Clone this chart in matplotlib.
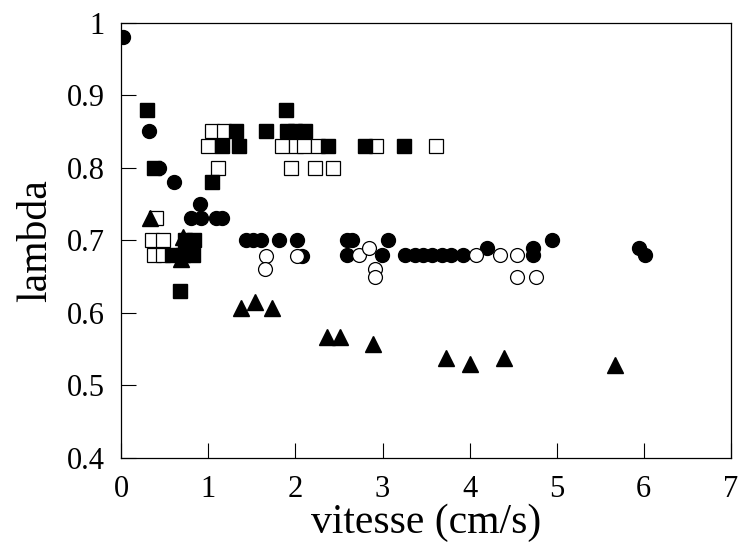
import matplotlib
matplotlib.use('Agg')
import matplotlib.pyplot as plt

plt.rcParams['font.family'] = ['Liberation Serif', 'DejaVu Serif']

# filled circles
fc_x = [0.02, 0.32, 0.43, 0.61, 0.90, 0.80, 0.92, 1.09, 1.16,
        1.43, 1.51, 1.60, 1.81, 2.02, 2.075, 2.59, 2.65, 3.06,
        2.59, 2.99, 3.26, 3.37, 3.47, 3.57, 3.68, 3.79, 3.93,
        4.20, 4.725, 4.725, 4.95, 5.945, 6.02]
fc_y = [0.98, 0.85, 0.80, 0.78, 0.75, 0.73, 0.73, 0.73, 0.73,
        0.70, 0.70, 0.70, 0.70, 0.70, 0.678, 0.70, 0.70, 0.70,
        0.68, 0.68, 0.68, 0.68, 0.68, 0.68, 0.68, 0.68, 0.68,
        0.69, 0.69, 0.68, 0.70, 0.69, 0.68]

# open circles
oc_x = [1.66, 1.645, 2.02, 2.73, 2.84, 2.91, 2.91, 4.07, 4.35, 4.55, 4.55, 4.76]
oc_y = [0.678, 0.66, 0.678, 0.68, 0.69, 0.66, 0.65, 0.68, 0.68, 0.68, 0.65, 0.65]

# filled squares
fs_x = [0.29, 1.89, 1.32, 1.665, 1.90, 2.0, 2.11, 1.16, 1.35, 2.37, 2.80, 3.25,
        0.37, 1.04, 0.73, 0.84, 0.58, 0.71, 0.82, 0.67]
fs_y = [0.88, 0.88, 0.85, 0.85, 0.85, 0.85, 0.85, 0.83, 0.83, 0.83, 0.83, 0.83,
        0.80, 0.78, 0.70, 0.70, 0.68, 0.68, 0.68, 0.63]

# open squares
os_x = [1.04, 1.18, 1.00, 1.84, 2.01, 2.10, 2.26, 2.92, 3.62,
        1.11, 1.95, 2.23, 2.43, 0.40, 0.35, 0.48, 0.37, 0.48]
os_y = [0.85, 0.85, 0.83, 0.83, 0.83, 0.83, 0.83, 0.83, 0.83,
        0.80, 0.80, 0.80, 0.80, 0.73, 0.70, 0.70, 0.68, 0.68]

# triangles
tr_x = [0.33, 0.71, 0.69, 1.38, 1.54, 1.73, 2.36, 2.51, 2.89, 3.73, 4.00, 4.40, 5.67]
tr_y = [0.73, 0.705, 0.674, 0.606, 0.615, 0.606, 0.567, 0.567, 0.557, 0.538, 0.529, 0.538, 0.528]

fig = plt.figure(figsize=(7.41, 5.49), dpi=100)
ax = fig.add_axes([0.1637, 0.1658, 0.8225, 0.7932])

ax.plot(os_x, os_y, 's', ms=10, mfc='white', mec='black', mew=0.9, ls='none')
ax.plot(fs_x, fs_y, 's', ms=10, color='black', ls='none')
ax.plot(fc_x, fc_y, 'o', ms=10, color='black', ls='none')
ax.plot(oc_x, oc_y, 'o', ms=10, mfc='white', mec='black', mew=0.9, ls='none')
ax.plot(tr_x, tr_y, '^', ms=12, color='black', ls='none')

ax.set_xlim(0, 7)
ax.set_ylim(0.4, 1)
ax.set_xticks(range(0, 8))
ax.set_yticks([0.4, 0.5, 0.6, 0.7, 0.8, 0.9, 1.0])
ax.set_yticklabels(['0.4', '0.5', '0.6', '0.7', '0.8', '0.9', '1'])
ax.tick_params(direction='in', length=10.5, width=0.8, labelsize=22, pad=12)
for s in ax.spines.values():
    s.set_linewidth(0.9)

ax.set_xlabel('vitesse (cm/s)', fontsize=30, labelpad=0)
ax.set_ylabel('lambda', fontsize=30, labelpad=8)

fig.savefig('out.png', dpi=100)
